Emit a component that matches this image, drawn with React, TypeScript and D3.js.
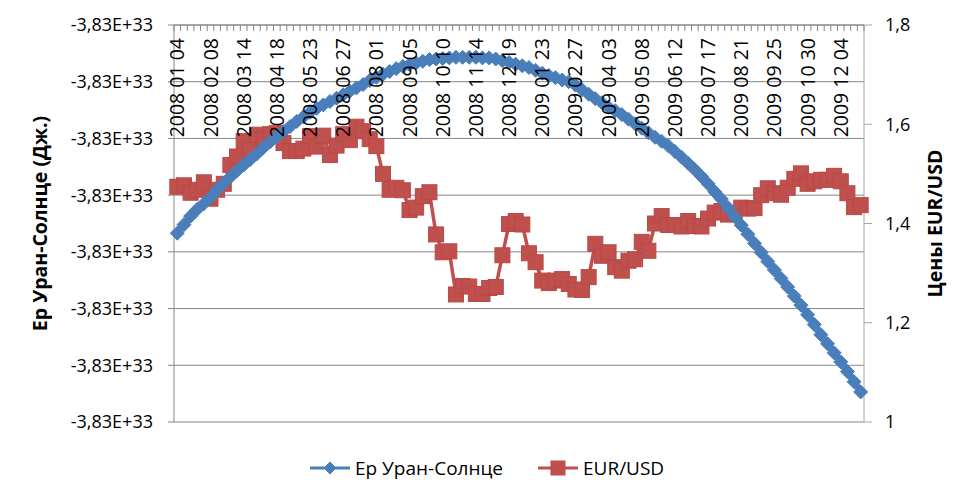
import { useEffect, useRef } from 'react';
import * as d3 from 'd3';

// weekly closes (fridays), 2008-01-04 .. 2009-12-25
const startDate = new Date(2008, 0, 4);
const endDate = new Date(2009, 11, 26);

const tickLabels = [
  '2008 01 04', '2008 02 08', '2008 03 14', '2008 04 18', '2008 05 23', '2008 06 27',
  '2008 08 01', '2008 09 05', '2008 10 10', '2008 11 14', '2008 12 19', '2009 01 23',
  '2009 02 27', '2009 04 03', '2009 05 08', '2009 06 12', '2009 07 17', '2009 08 21',
  '2009 09 25', '2009 10 30', '2009 12 04',
];

// Ер Уран-Солнце, offset above -3,8307E+33 J in units of 1E+29
const uranSun = [
  3.33, 3.48, 3.63, 3.75, 3.85, 3.96, 4.09, 4.21, 4.32, 4.43,
  4.53, 4.63, 4.73, 4.84, 4.94, 5.03, 5.12, 5.21, 5.30, 5.38,
  5.46, 5.53, 5.59, 5.65, 5.71, 5.77, 5.83, 5.89, 5.95, 6.02,
  6.08, 6.13, 6.18, 6.23, 6.27, 6.30, 6.33, 6.36, 6.39, 6.40,
  6.41, 6.42, 6.43, 6.43, 6.43, 6.43, 6.42, 6.42, 6.40, 6.37,
  6.34, 6.31, 6.28, 6.25, 6.20, 6.15, 6.11, 6.07, 6.03, 6.00,
  5.94, 5.86, 5.78, 5.70, 5.63, 5.55, 5.49, 5.42, 5.34, 5.26,
  5.18, 5.10, 5.02, 4.95, 4.87, 4.77, 4.67, 4.56, 4.45, 4.33,
  4.20, 4.06, 3.93, 3.78, 3.62, 3.47, 3.31, 3.15, 2.99, 2.83,
  2.68, 2.53, 2.38, 2.22, 2.06, 1.89, 1.72, 1.54, 1.38, 1.22,
  1.06, 0.89, 0.71, 0.53,
];

const eurUsd = [
  1.474, 1.477, 1.462, 1.468, 1.483, 1.450, 1.468, 1.480, 1.518, 1.535,
  1.566, 1.548, 1.579, 1.569, 1.580, 1.582, 1.562, 1.546, 1.546, 1.551,
  1.576, 1.555, 1.577, 1.538, 1.557, 1.580, 1.568, 1.595, 1.586, 1.570,
  1.556, 1.500, 1.468, 1.472, 1.467, 1.427, 1.432, 1.455, 1.463, 1.378,
  1.342, 1.344, 1.257, 1.274, 1.273, 1.258, 1.258, 1.270, 1.272, 1.336,
  1.399, 1.405, 1.398, 1.340, 1.322, 1.285, 1.280, 1.285, 1.288, 1.278,
  1.267, 1.266, 1.292, 1.359, 1.335, 1.342, 1.312, 1.305, 1.325, 1.328,
  1.363, 1.345, 1.400, 1.415, 1.397, 1.397, 1.394, 1.405, 1.395, 1.394,
  1.410, 1.422, 1.425, 1.418, 1.420, 1.432, 1.430, 1.431, 1.457, 1.471,
  1.461, 1.458, 1.472, 1.490, 1.501, 1.480, 1.485, 1.488, 1.488, 1.496,
  1.485, 1.461, 1.433, 1.437,
];

const leftTicks = [0, 1, 2, 3, 4, 5, 6, 7];
const leftTickLabels = ['-3,83E+33', '-3,83E+33', '-3,83E+33', '-3,83E+33',
  '-3,83E+33', '-3,83E+33', '-3,83E+33', '-3,83E+33'];
const rightTicks = [1, 1.2, 1.4, 1.6, 1.8];

const seriesNames = ['Ер Уран-Солнце', 'EUR/USD'];

const BLUE = '#4a7ebb';
const RED = '#c0504d';
const FONT = '"Open Sans", sans-serif';

const diamond = (r) => `M0,${-r}L${r},0L0,${r}L${-r},0Z`;

const App = () => {
  const svgRef = useRef(null);

  useEffect(() => {
    const W = 974, H = 500;
    const m = { left: 174, right: 864, top: 25, bottom: 422 };

    const svg = d3.select(svgRef.current).attr('width', W).attr('height', H);
    svg.selectAll('*').remove();

    const fmtDate = d3.timeFormat('%Y %m %d');
    const dates = d3.timeFriday.range(startDate, endDate).map(fmtDate);

    const x = d3.scaleBand().domain(dates).range([m.left, m.right]);
    const cx = (i) => x(dates[i]) + x.bandwidth() / 2;
    const yL = d3.scaleLinear().domain([0, 7]).range([m.bottom, m.top]);
    const yR = d3.scaleLinear().domain([1, 1.8]).range([m.bottom, m.top]);
    const fmtR = d3.formatLocale({ decimal: ',', thousands: ' ', grouping: [3], currency: ['', ''] }).format('.1~f');

    // gridlines + left axis
    svg.append('g').selectAll('line').data(leftTicks).enter().append('line')
      .attr('x1', m.left - 6).attr('x2', m.right)
      .attr('y1', d => yL(d)).attr('y2', d => yL(d))
      .attr('stroke', '#868686').attr('stroke-width', 1);
    svg.append('line').attr('x1', m.left).attr('x2', m.left).attr('y1', m.top).attr('y2', m.bottom)
      .attr('stroke', '#868686');
    svg.append('g').selectAll('text').data(leftTicks).enter().append('text')
      .attr('x', 153).attr('y', d => yL(d)).attr('dy', '0.36em')
      .attr('text-anchor', 'end').attr('font-family', FONT).attr('font-size', 18)
      .text((d, i) => leftTickLabels[i]);

    // right axis
    svg.append('line').attr('x1', m.right).attr('x2', m.right).attr('y1', m.top).attr('y2', m.bottom)
      .attr('stroke', '#a6a6a6');
    svg.append('g').selectAll('line').data(rightTicks).enter().append('line')
      .attr('x1', m.right).attr('x2', m.right + 8)
      .attr('y1', d => yR(d)).attr('y2', d => yR(d)).attr('stroke', '#a6a6a6');
    svg.append('g').selectAll('text').data(rightTicks).enter().append('text')
      .attr('x', 885).attr('y', d => yR(d)).attr('dy', '0.36em')
      .attr('font-family', FONT).attr('font-size', 18)
      .text(d => fmtR(d));

    // category axis at top
    svg.append('line').attr('x1', m.left).attr('x2', m.right).attr('y1', m.top).attr('y2', m.top)
      .attr('stroke', '#868686');
    svg.append('g').selectAll('line').data(d3.range(dates.length + 1)).enter().append('line')
      .attr('x1', i => m.left + i * x.step()).attr('x2', i => m.left + i * x.step())
      .attr('y1', m.top).attr('y2', m.top + 6).attr('stroke', '#868686');

    // EUR/USD
    const lineR = d3.line().x((d, i) => cx(i)).y(d => yR(d));
    svg.append('path').datum(eurUsd).attr('d', lineR)
      .attr('fill', 'none').attr('stroke', RED).attr('stroke-width', 3.5);
    const sq = 15;
    svg.append('g').selectAll('rect').data(eurUsd).enter().append('rect')
      .attr('x', (d, i) => cx(i) - sq / 2).attr('y', d => yR(d) - sq / 2)
      .attr('width', sq).attr('height', sq)
      .attr('fill', RED).attr('stroke', '#b84946').attr('stroke-width', 1);

    // Ер Уран-Солнце
    const lineL = d3.line().x((d, i) => cx(i)).y(d => yL(d));
    svg.append('path').datum(uranSun).attr('d', lineL)
      .attr('fill', 'none').attr('stroke', BLUE).attr('stroke-width', 7);
    svg.append('g').selectAll('path').data(uranSun).enter().append('path')
      .attr('d', diamond(7))
      .attr('transform', (d, i) => `translate(${cx(i)},${yL(d)})`)
      .attr('fill', BLUE).attr('stroke', BLUE).attr('stroke-width', 1);

    // category labels, drawn over the series
    svg.append('g').selectAll('text').data(tickLabels).enter().append('text')
      .attr('transform', d => `translate(${cx(dates.indexOf(d))},38) rotate(-90)`)
      .attr('dy', '0.36em').attr('text-anchor', 'end')
      .attr('font-family', FONT).attr('font-size', 19.5)
      .text(d => d);

    // axis titles
    svg.append('text')
      .attr('transform', `translate(40,${(m.top + m.bottom) / 2}) rotate(-90)`)
      .attr('text-anchor', 'middle').attr('dy', '0.36em')
      .attr('font-family', FONT).attr('font-size', 19.5).attr('font-weight', 'bold')
      .text('Ер Уран-Солнце (Дж.)');
    svg.append('text')
      .attr('transform', `translate(935,${(m.top + m.bottom) / 2}) rotate(-90)`)
      .attr('text-anchor', 'middle').attr('dy', '0.36em')
      .attr('font-family', FONT).attr('font-size', 19.5).attr('font-weight', 'bold')
      .text('Цены EUR/USD');

    // legend
    const ly = 468;
    const leg = [
      { x: 310, color: BLUE, name: seriesNames[0] },
      { x: 538, color: RED, name: seriesNames[1] },
    ];
    const lg = svg.append('g');
    leg.forEach((l, k) => {
      lg.append('line').attr('x1', l.x).attr('x2', l.x + 40).attr('y1', ly).attr('y2', ly)
        .attr('stroke', l.color).attr('stroke-width', 3);
      if (k === 0) {
        lg.append('path').attr('d', diamond(6)).attr('transform', `translate(${l.x + 20},${ly})`)
          .attr('fill', BLUE).attr('stroke', BLUE);
      } else {
        lg.append('rect').attr('x', l.x + 20 - 7).attr('y', ly - 7).attr('width', 14).attr('height', 14)
          .attr('fill', RED).attr('stroke', '#b84946');
      }
      lg.append('text').attr('x', l.x + 45).attr('y', ly).attr('dy', '0.36em')
        .attr('font-family', FONT).attr('font-size', 19).text(l.name);
    });
  }, []);

  return <svg ref={svgRef} style={{ position: 'absolute', left: 0, top: 0 }}></svg>;
};

export default App;
